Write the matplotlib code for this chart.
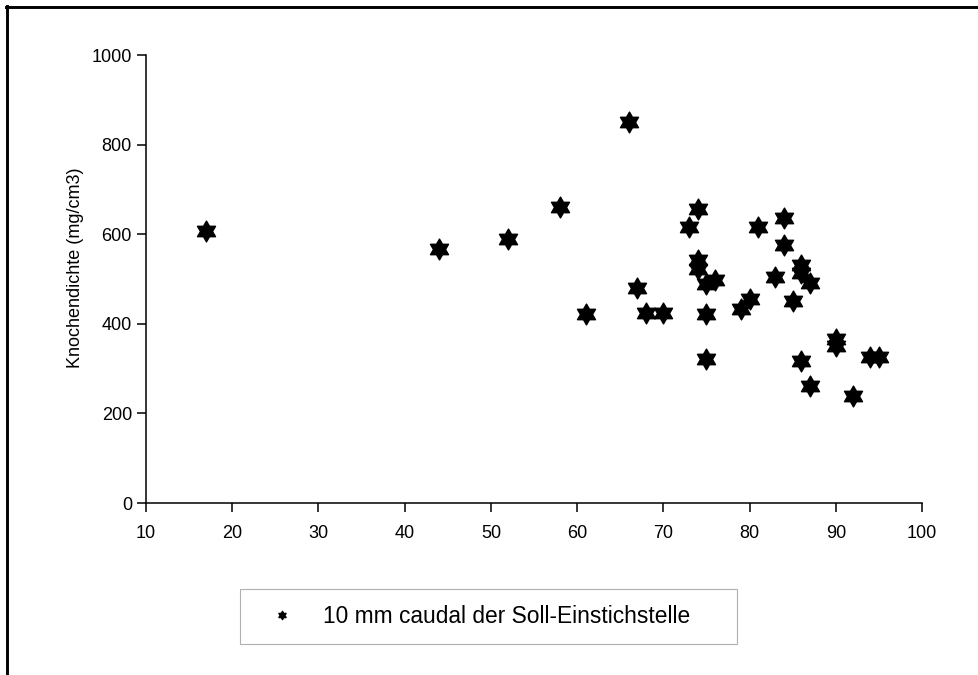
"""
Streudiagramm: Knochendichte 10 mm caudal der Soll-Einstichstelle.
"""

import matplotlib
matplotlib.use("Agg")
import matplotlib.pyplot as plt
from matplotlib.lines import Line2D
from matplotlib.path import Path

# Daten
alter = [17, 44, 52, 58, 61, 66, 67, 68, 70, 73, 74, 74, 74, 75, 76, 75, 75,
         79, 80, 81, 83, 84, 84, 85, 86, 86, 87, 86, 87, 90, 90, 92, 94, 95]
dichte = [607, 568, 589, 660, 421, 851, 481, 425, 423, 617, 657, 543, 522, 488,
          497, 422, 321, 432, 456, 615, 505, 637, 577, 451, 532, 514, 492, 316,
          261, 366, 350, 238, 325, 327]
x_ticks = [10, 20, 30, 40, 50, 60, 70, 80, 90, 100]
y_ticks = [0, 200, 400, 600, 800, 1000]
legende = "10 mm caudal der Soll-Einstichstelle"

plt.rcParams['font.family'] = ['Liberation Sans', 'DejaVu Sans']

# Sechszackiger Stern als Marker
stern = Path.unit_regular_star(6, innerCircle=0.577)

W, H = 979, 675
fig = plt.figure(figsize=(W / 100, H / 100), dpi=100)
ax = fig.add_axes([146 / W, 1 - 503 / H, 776 / W, 448 / H])

ax.plot(alter, dichte, linestyle='none', marker=stern, markersize=15,
        color='black')

ax.set_xlim(10, 100)
ax.set_ylim(0, 1000)
ax.set_xticks(x_ticks)
ax.set_yticks(y_ticks)
ax.spines['top'].set_visible(False)
ax.spines['right'].set_visible(False)
for s in ('left', 'bottom'):
    ax.spines[s].set_linewidth(1.1)
ax.tick_params(direction='out', length=6.5, width=1.1, labelsize=13)
ax.tick_params(axis='x', pad=9.5)
ax.tick_params(axis='y', pad=3.6)

ax.set_ylabel("Knochendichte (mg/cm3)", fontsize=13)
ax.yaxis.set_label_coords(-0.080, 0.526)

# Legende unten mit grauem Rahmen
handle = Line2D([], [], linestyle='none', marker=stern, markersize=6,
                color='black')
leg = fig.legend(handles=[handle], labels=[legende], loc='center',
                 bbox_to_anchor=(240 / W, 30 / H, 497 / W, 57 / H),
                 mode='expand', fontsize=16.4, fancybox=False, framealpha=1,
                 edgecolor='#b0b0b0', borderaxespad=0, borderpad=0.69,
                 handlelength=2.3, handletextpad=0.67)
leg.get_frame().set_linewidth(0.8)

# Rahmenlinien oben und links
fig.add_artist(Line2D([6 / W, 1], [1 - 7.3 / H, 1 - 7.3 / H],
                      transform=fig.transFigure, color='black', linewidth=2.1))
fig.add_artist(Line2D([7.5 / W, 7.5 / W], [0, 1 - 6 / H],
                      transform=fig.transFigure, color='black', linewidth=2.1))

fig.savefig("out.png", dpi=100)
plt.close(fig)
